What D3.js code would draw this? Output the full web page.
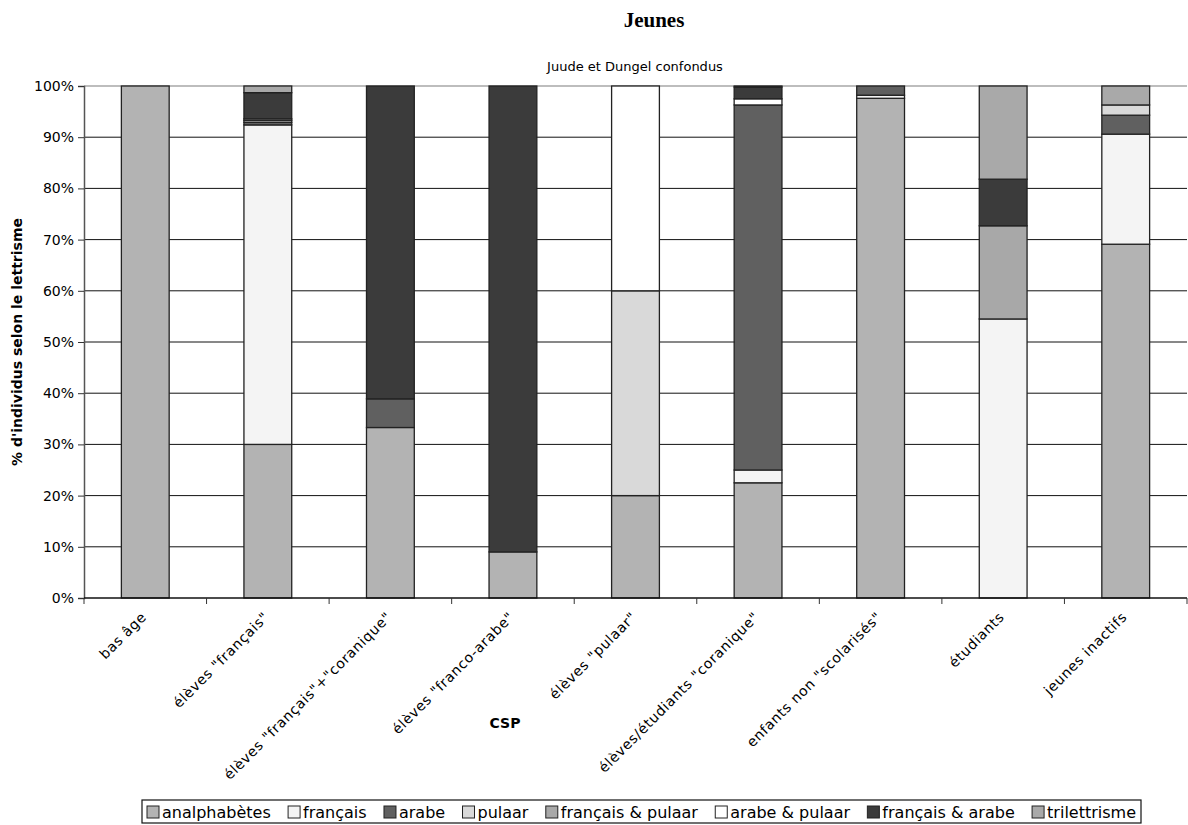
<!DOCTYPE html>
<html><head><meta charset="utf-8">
<script src="https://cdn.jsdelivr.net/npm/d3@7"></script>
<style>body{margin:0;background:#fff}svg{display:block}</style>
</head><body>
<svg id="c" width="1188" height="825"></svg>
<script>
const categories = ['bas âge','élèves "français"','élèves "français"+"coranique"','élèves "franco-arabe"','élèves "pulaar"','élèves/étudiants "coranique"','enfants non "scolarisés"','étudiants','jeunes inactifs'];
const seriesNames = ['analphabètes','français','arabe','pulaar','français & pulaar','arabe & pulaar','français & arabe','trilettrisme'];
const seriesColors = ['#b3b3b3','#f4f4f4','#606060','#d9d9d9','#a8a8a8','#ffffff','#3b3b3b','#a9a9a9'];
const analphabetes   = [100, 30, 33.3, 9, 20, 22.5, 97.6, 0, 69.1];
const francais       = [0, 62.4, 0, 0, 0, 2.5, 0.6, 54.5, 21.5];
const arabe          = [0, 0.5, 5.6, 0, 0, 71.3, 1.8, 0, 3.7];
const pulaar         = [0, 0, 0, 0, 40, 0, 0, 0, 2.0];
const francaisPulaar = [0, 0.4, 0, 0, 0, 0, 0, 18.2, 0];
const arabePulaar    = [0, 0.3, 0, 0, 40, 1.2, 0, 0, 0];
const francaisArabe  = [0, 5.1, 61.1, 91, 0, 2.3, 0, 9.1, 0];
const trilettrisme   = [0, 1.3, 0, 0, 0, 0.2, 0, 18.2, 3.7];
const yTicks = [0,10,20,30,40,50,60,70,80,90,100];

const series = [analphabetes, francais, arabe, pulaar, francaisPulaar, arabePulaar, francaisArabe, trilettrisme];
const svg = d3.select('#c');
const m = {l:84, r:1187, t:86, b:598};
const x = d3.scaleBand().domain(categories).range([m.l, m.r]).paddingInner(0.61).paddingOuter(0.305);
const y = d3.scaleLinear().domain([0,100]).range([m.b, m.t]);
const font = '"DejaVu Sans", Verdana, sans-serif';

// gridlines
svg.append('g').selectAll('line').data(yTicks.filter(d=>d>0)).join('line')
  .attr('x1', m.l).attr('x2', m.r).attr('y1', d=>y(d)).attr('y2', d=>y(d))
  .attr('stroke', d=>d===100?'#bdbdbd':'#111').attr('stroke-width', d=>d===100?2:1);

// stacked bars
const rows = categories.map((c,i)=>{const o={cat:c}; seriesNames.forEach((s,j)=>o[s]=series[j][i]); return o;});
const stack = d3.stack().keys(seriesNames)(rows);
svg.append('g').selectAll('g').data(stack).join('g')
  .attr('fill', (d,i)=>seriesColors[i])
  .selectAll('rect').data(d=>d.filter(v=>v[1]-v[0]>0)).join('rect')
  .attr('x', d=>x(d.data.cat)).attr('width', x.bandwidth())
  .attr('y', d=>y(d[1])).attr('height', d=>y(d[0])-y(d[1]))
  .attr('stroke', '#222').attr('stroke-width', 1.3);

// y axis
const ya = svg.append('g').attr('transform', `translate(${m.l},0)`)
  .call(d3.axisLeft(y).tickValues(yTicks).tickFormat(d=>d+'%').tickSize(6).tickPadding(4));
ya.select('.domain').attr('stroke','#555').attr('stroke-width',1.5);
ya.selectAll('.tick line').attr('stroke','#333');
ya.selectAll('text').attr('font-family', font).attr('font-size', 14).attr('fill','#000');

// x axis
const bounds = d3.range(categories.length+1).map(i=>m.l + i*(m.r-m.l)/categories.length);
const xa = svg.append('g');
xa.append('line').attr('x1', m.l).attr('x2', m.r).attr('y1', m.b).attr('y2', m.b).attr('stroke','#111').attr('stroke-width',1.5);
xa.selectAll('line.t').data(bounds).join('line').attr('class','t')
  .attr('x1', d=>d).attr('x2', d=>d).attr('y1', m.b).attr('y2', m.b+6).attr('stroke','#333');
xa.selectAll('text').data(categories).join('text')
  .attr('transform', d=>`translate(${x(d)+x.bandwidth()/2+2},${m.b+20}) rotate(-45)`)
  .attr('text-anchor','end').attr('font-family', font).attr('font-size', 14).attr('letter-spacing', 0.6).text(d=>d);

// titles
svg.append('text').attr('x', 654).attr('y', 27).attr('text-anchor','middle')
  .attr('font-family','"Liberation Serif", "Times New Roman", serif').attr('font-weight','bold').attr('font-size', 21).text('Jeunes');
svg.append('text').attr('x', 635).attr('y', 71).attr('text-anchor','middle')
  .attr('font-family', font).attr('font-size', 13).text('Juude et Dungel confondus');
svg.append('text').attr('transform','translate(22,342) rotate(-90)').attr('text-anchor','middle')
  .attr('font-family', font).attr('font-weight','bold').attr('font-size', 14).text("% d'individus selon le lettrisme");
svg.append('text').attr('x', 505).attr('y', 728).attr('text-anchor','middle')
  .attr('font-family', font).attr('font-weight','bold').attr('font-size', 14).text('CSP');

// legend
const lg = svg.append('g');
const lbox = lg.append('rect').attr('fill','#fff').attr('stroke','#111').attr('stroke-width',1.2);
const L0 = 142, L1 = 1141, ly = 812, sq = 12;
const texts = seriesNames.map(s=>lg.append('text').attr('y', ly+6).attr('font-family', font).attr('font-size', 16).text(s));
const tw = texts.map(t=>t.node().getComputedTextLength());
const gap = ((L1-L0) - 6 - 4 - d3.sum(tw) - seriesNames.length*(sq+3)) / (seriesNames.length-1);
let lx = L0 + 5;
seriesNames.forEach((s,i)=>{
  lg.append('rect').attr('x', lx).attr('y', ly-6).attr('width', sq).attr('height', sq)
    .attr('fill', seriesColors[i]).attr('stroke','#222').attr('stroke-width',1);
  texts[i].attr('x', lx+sq+3);
  lx += sq + 3 + tw[i] + gap;
});
lbox.attr('x', L0).attr('y', 800).attr('width', L1-L0).attr('height', 23);
</script>
</body></html>
